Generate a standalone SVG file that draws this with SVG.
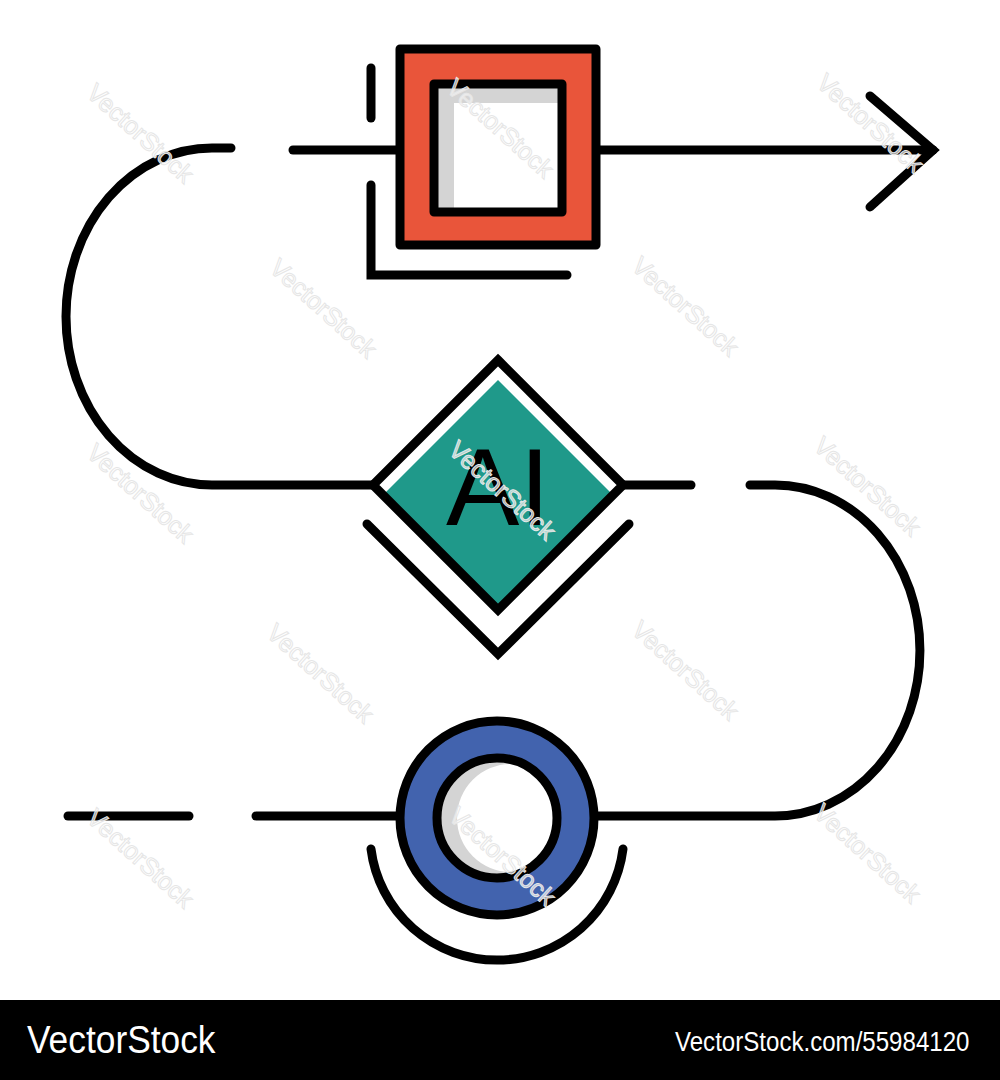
<svg xmlns="http://www.w3.org/2000/svg" width="1000" height="1080" viewBox="0 0 1000 1080">
<style>
.ln{fill:none;stroke:#000;stroke-width:9;stroke-linecap:round;stroke-linejoin:miter}
.wm{font-family:"Liberation Sans",Arial,sans-serif;font-size:25px;fill:#fff;fill-opacity:0.6;stroke:#e6e6e6;stroke-width:1}
.ft{font-family:"Liberation Sans",Arial,sans-serif;fill:#fff}
</style>
<defs>
<clipPath id="innerClip"><circle cx="497" cy="818" r="60"/></clipPath>
</defs>
<rect width="1000" height="1080" fill="#fff"/>

<g id="connectors">
<line class="ln" x1="293" y1="150" x2="400" y2="150"/>
<line class="ln" x1="596" y1="150" x2="933" y2="150"/>
<polyline class="ln" points="870,96 933,150 870,207" stroke-linejoin="round"/>
<path class="ln" d="M231,148 H212 A146,168.5 0 0 0 212,485 H373"/>
<line class="ln" x1="623" y1="485" x2="691" y2="485"/>
<path class="ln" d="M750,485 H775 A145,165.5 0 0 1 775,816 H596"/>
<line class="ln" x1="68" y1="816" x2="189" y2="816"/>
<line class="ln" x1="256" y1="816" x2="400" y2="816"/>
</g>

<g id="node-square">
<rect x="400" y="49" width="196" height="196" fill="#E9553A" stroke="#000" stroke-width="9" stroke-linejoin="round"/>
<rect x="434" y="84" width="128" height="128" fill="#fff"/>
<path d="M438,88 H558 V103 H454 V208 H438 Z" fill="#d4d4d4"/>
<rect x="434" y="84" width="128" height="128" fill="none" stroke="#000" stroke-width="9" stroke-linejoin="round"/>
<line class="ln" x1="371" y1="68" x2="371" y2="118"/>
<polyline class="ln" points="371,185 371,275 567,275"/>
</g>

<g id="node-ai">
<polygon points="498,360 623,485 498,610 373,485" fill="#fff"/>
<polygon points="498,380 613,495 498,610 383,495" fill="#1F998A"/>
<polygon points="498,360 623,485 498,610 373,485" fill="none" stroke="#000" stroke-width="9"/>
<text x="498" y="525" text-anchor="middle" font-family="Liberation Sans, Arial, sans-serif" font-size="110" fill="#000">AI</text>
<polyline class="ln" points="367,524 498,654 629,524"/>
</g>

<g id="node-circle">
<circle cx="497" cy="818" r="97" fill="#4263AE" stroke="#000" stroke-width="9"/>
<circle cx="497" cy="818" r="60" fill="#d4d4d4"/>
<circle cx="511" cy="818" r="54" fill="#fff" clip-path="url(#innerClip)"/>
<circle cx="497" cy="818" r="60" fill="none" stroke="#000" stroke-width="9"/>
<path class="ln" d="M371,849 A127,127 0 0 0 623,849"/>
</g>

<g id="watermarks">
<text class="wm" transform="translate(85,95) rotate(42)">VectorStock</text>
<text class="wm" transform="translate(445,90) rotate(42)">VectorStock</text>
<text class="wm" transform="translate(815,85) rotate(42)">VectorStock</text>
<text class="wm" transform="translate(268,270) rotate(42)">VectorStock</text>
<text class="wm" transform="translate(630,268) rotate(42)">VectorStock</text>
<text class="wm" transform="translate(85,455) rotate(42)">VectorStock</text>
<text class="wm" transform="translate(447,452) rotate(42)">VectorStock</text>
<text class="wm" transform="translate(812,448) rotate(42)">VectorStock</text>
<text class="wm" transform="translate(265,635) rotate(42)">VectorStock</text>
<text class="wm" transform="translate(630,632) rotate(42)">VectorStock</text>
<text class="wm" transform="translate(85,820) rotate(42)">VectorStock</text>
<text class="wm" transform="translate(447,818) rotate(42)">VectorStock</text>
<text class="wm" transform="translate(812,815) rotate(42)">VectorStock</text>
</g>

<g id="footer">
<rect x="0" y="1000" width="1000" height="80" fill="#000"/>
<text class="ft" font-size="38" transform="translate(27,1053) scale(0.93,1)">VectorStock</text>
<text class="ft" font-size="28" transform="translate(675,1051) scale(0.86,1)">VectorStock.com/55984120</text>
</g>
</svg>
